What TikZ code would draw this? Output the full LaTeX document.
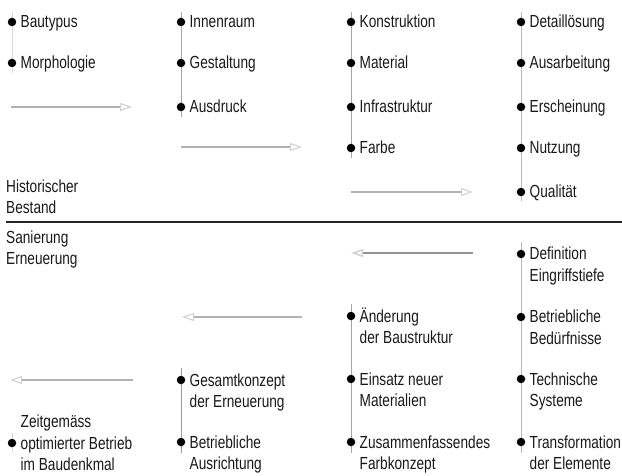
\documentclass[tikz,border=0pt]{standalone}
\usepackage{fontspec}
\setmainfont{Liberation Sans}[FakeStretch=0.78]
\usetikzlibrary{arrows.meta, backgrounds}

\tikzset{
    dot/.style={circle, fill=black, inner sep=0pt, minimum size=8.5pt},
    txt/.style={anchor=base west, align=left, inner sep=0pt, xshift=8.5pt, yshift=-6pt,
        font=\fontsize{17.5}{21.5}\selectfont, text=black!90},
    txtii/.style={txt, yshift=-21.5pt},
    head/.style={anchor=base west, align=left, inner sep=0pt,
        font=\fontsize{17.5}{21.5}\selectfont, text=black!90},
    stem/.style={gray!70, line width=1pt},
    flow/.style={gray!60, line width=1.1pt, -{Triangle[open, length=12pt, width=8pt, gray!35]}}
}

\begin{document}
\begin{tikzpicture}[x=1pt, y=-1pt]
        \useasboundingbox (0,0) rectangle (622,476);
        % historischer Bestand
        \node[dot] (d11) at (12,22) {};
        \node[dot] (d12) at (12,63) {};
        \node[txt] (bautypus) at (d11) {Bautypus};
        \node[txt] (morphologie) at (d12) {Morphologie};
        \node[dot] (d21) at (181,22) {};
        \node[dot] (d22) at (181,63) {};
        \node[dot] (d23) at (181,107) {};
        \node[txt] (innenraum) at (d21) {Innenraum};
        \node[txt] (gestaltung) at (d22) {Gestaltung};
        \node[txt] (ausdruck) at (d23) {Ausdruck};
        \node[dot] (d31) at (351,22) {};
        \node[dot] (d32) at (351,63) {};
        \node[dot] (d33) at (351,107) {};
        \node[dot] (d34) at (351,148) {};
        \node[txt] (konstruktion) at (d31) {Konstruktion};
        \node[txt] (material) at (d32) {Material};
        \node[txt] (infrastruktur) at (d33) {Infrastruktur};
        \node[txt] (farbe) at (d34) {Farbe};
        \node[dot] (d41) at (521,22) {};
        \node[dot] (d42) at (521,63) {};
        \node[dot] (d43) at (521,107) {};
        \node[dot] (d44) at (521,148) {};
        \node[dot] (d45) at (521,192) {};
        \node[txt] (detailloesung) at (d41) {Detaillösung};
        \node[txt] (ausarbeitung) at (d42) {Ausarbeitung};
        \node[txt] (erscheinung) at (d43) {Erscheinung};
        \node[txt] (nutzung) at (d44) {Nutzung};
        \node[txt] (qualitaet) at (d45) {Qualität};
        \coordinate (a1s) at (11,107);
        \coordinate (a1e) at (132,107);
        \coordinate (a2s) at (181,147);
        \coordinate (a2e) at (302,147);
        \coordinate (a3s) at (351,192);
        \coordinate (a3e) at (473,192);
        \draw[flow] (a1s) -- (a1e);
        \draw[flow] (a2s) -- (a2e);
        \draw[flow] (a3s) -- (a3e);
        \node[head] (bestand) at (6,214) {Historischer\\Bestand};
        \draw[line width=1.3pt, black!85] (6,222) -- (622,222);
        % Sanierung
        \node[head] (sanierung) at (6,265) {Sanierung\\Erneuerung};
        \node[dot] (e41) at (521,254) {};
        \node[dot] (e42) at (521,317) {};
        \node[dot] (e43) at (521,379) {};
        \node[dot] (e44) at (521,442) {};
        \node[txtii] (definition) at (e41) {Definition\\Eingriffstiefe};
        \node[txtii] (beduerfnisse) at (e42) {Betriebliche\\Bedürfnisse};
        \node[txtii] (systeme) at (e43) {Technische\\Systeme};
        \node[txtii] (transformation) at (e44) {Transformation\\der Elemente};
        \node[dot] (e31) at (351,316) {};
        \node[dot] (e32) at (351,379) {};
        \node[dot] (e33) at (351,442) {};
        \node[txtii] (baustruktur) at (e31) {Änderung\\der Baustruktur};
        \node[txtii] (materialien) at (e32) {Einsatz neuer\\Materialien};
        \node[txtii] (farbkonzept) at (e33) {Zusammenfassendes\\Farbkonzept};
        \node[dot] (e21) at (181,380) {};
        \node[dot] (e22) at (181,442) {};
        \node[txtii] (gesamtkonzept) at (e21) {Gesamtkonzept\\der Erneuerung};
        \node[txtii] (ausrichtung) at (e22) {Betriebliche\\Ausrichtung};
        \node[dot] (e11) at (12,443) {};
        \node[txtii] (betrieb) at (e11) {Zeitgemäss\\optimierter Betrieb\\im Baudenkmal};
        \coordinate (b1s) at (473,253);
        \coordinate (b1e) at (351,253);
        \coordinate (b2s) at (302,317);
        \coordinate (b2e) at (182,317);
        \coordinate (b3s) at (133,380);
        \coordinate (b3e) at (10,380);
        \draw[flow, gray!85, line width=1.5pt] (b1s) -- (b1e);
        \draw[flow] (b2s) -- (b2e);
        \draw[flow] (b3s) -- (b3e);
        % Linien hinter den Punkten
        \begin{scope}[on background layer]
        \draw[stem, gray!30] ([yshift=10pt]d11.center) -- ([yshift=-10pt]d12.center);
        \draw[stem] ([yshift=10pt]d21.center) -- ([yshift=-10pt]d23.center);
        \draw[stem] ([yshift=10pt]d31.center) -- ([yshift=-10pt]d34.center);
        \draw[stem, gray!55] ([yshift=10pt]d41.center) -- ([yshift=-9pt]d45.center);
        \draw[stem, gray!55] ([yshift=12pt]e41.center) -- ([yshift=-11pt]e44.center);
        \draw[stem] ([yshift=12pt]e31.center) -- ([yshift=-11pt]e33.center);
        \draw[stem, gray!80] ([yshift=12pt]e21.center) -- ([yshift=-11pt]e22.center);
        \draw[stem, gray!30] ([yshift=10pt]e11.center) -- ([yshift=-9pt]e11.center);
        \end{scope}
\end{tikzpicture}
\end{document}
